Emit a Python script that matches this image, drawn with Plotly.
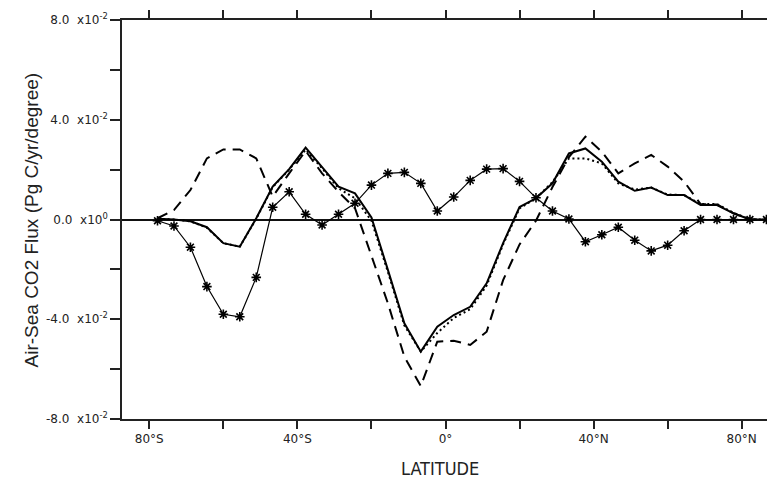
import numpy as np
import plotly.graph_objects as go

# Gaussian-grid latitudes (degrees)
lats = [-77.78, -73.33, -68.89, -64.44, -60.0, -55.56, -51.11, -46.67, -42.22, -37.78,
        -33.33, -28.89, -24.44, -20.0, -15.56, -11.11, -6.67, -2.22, 2.22, 6.67,
        11.11, 15.56, 20.0, 24.44, 28.89, 33.33, 37.78, 42.22, 46.67, 51.11,
        55.56, 60.0, 64.44, 68.89, 73.33, 77.78, 82.22, 86.67]

# flux values in units of 1e-2 Pg C/yr/degree
solid = [0.03, 0.0, -0.07, -0.31, -0.95, -1.09, 0.05, 1.32, 2.02, 2.88,
         2.10, 1.32, 1.05, 0.08, -2.02, -4.16, -5.30, -4.30, -3.83, -3.50,
         -2.56, -0.95, 0.50, 0.85, 1.45, 2.65, 2.85, 2.32, 1.52, 1.15,
         1.28, 0.98, 0.98, 0.58, 0.58, 0.25, 0.0, 0.0]
dotted = [0.03, 0.0, -0.07, -0.33, -0.95, -1.09, 0.03, 1.30, 2.00, 2.80,
          2.05, 1.25, 0.85, -0.05, -2.10, -4.25, -5.30, -4.55, -3.95, -3.60,
          -2.65, -1.00, 0.45, 0.85, 1.50, 2.45, 2.45, 2.25, 1.45, 1.20,
          1.28, 1.00, 0.98, 0.62, 0.62, 0.27, 0.0, 0.0]
dashed = [0.05, 0.38, 1.18, 2.45, 2.81, 2.81, 2.45, 0.92, 1.85, 2.75,
          1.85, 1.11, 0.45, -1.49, -3.36, -5.50, -6.68, -4.90, -4.86, -5.03,
          -4.50, -2.43, -1.00, -0.05, 1.30, 2.50, 3.32, 2.72, 1.85, 2.25,
          2.59, 2.12, 1.52, 0.62, 0.60, 0.25, 0.0, 0.0]
starred = [-0.05, -0.26, -1.11, -2.69, -3.80, -3.90, -2.32, 0.49, 1.11, 0.21,
           -0.22, 0.21, 0.65, 1.38, 1.85, 1.89, 1.45, 0.34, 0.90, 1.57,
           2.02, 2.04, 1.53, 0.87, 0.34, 0.02, -0.89, -0.61, -0.31, -0.83,
           -1.26, -1.03, -0.45, 0.0, 0.0, 0.0, 0.0, 0.0]
scale = 1e-2

x_tickvals = [-80, -40, 0, 40, 80]
x_ticktext = ["80°S", "40°S", "0°", "40°N", "80°N"]
y_tickvals = [0.08, 0.04, 0.0, -0.04, -0.08]
y_ticktext = ["8.0  x10<sup>-2</sup>", "4.0  x10<sup>-2</sup>",
              "0.0  x10<sup>0</sup>", "-4.0  x10<sup>-2</sup>",
              "-8.0  x10<sup>-2</sup>"]

fig = go.Figure()
fig.add_trace(go.Scatter(x=lats, y=np.array(dashed) * scale, mode="lines",
                         line=dict(color="black", width=2, dash="11px,7px"),
                         showlegend=False))
fig.add_trace(go.Scatter(x=lats, y=np.array(dotted) * scale, mode="lines",
                         line=dict(color="black", width=2, dash="2px,3px"),
                         showlegend=False))
fig.add_trace(go.Scatter(x=lats, y=np.array(solid) * scale, mode="lines",
                         line=dict(color="black", width=2),
                         showlegend=False))
fig.add_trace(go.Scatter(x=lats, y=np.array(starred) * scale, mode="lines+markers",
                         line=dict(color="black", width=1.2),
                         marker=dict(symbol="asterisk-open", size=8, color="black",
                                     line=dict(color="black", width=1.6)),
                         showlegend=False))

axis_font = dict(family="DejaVu Sans", size=12, color="#222")
fig.update_xaxes(range=[-87.37, 86.83], tickmode="array", tickvals=x_tickvals,
                 ticktext=x_ticktext, ticks="outside", ticklen=8, tickwidth=1.5,
                 tickcolor="#222", showline=True, linecolor="#222", linewidth=1.6,
                 minor=dict(tickmode="linear", tick0=0, dtick=20, ticks="outside",
                            ticklen=8, tickwidth=1.5, tickcolor="#222"),
                 mirror="ticks", showgrid=False, zeroline=False, tickfont=axis_font)
fig.update_yaxes(range=[-0.08, 0.08], tickmode="array", tickvals=y_tickvals,
                 ticktext=y_ticktext, ticks="outside", ticklen=10, tickwidth=1.5,
                 tickcolor="#222", showline=True, linecolor="#222", linewidth=1.6,
                 minor=dict(tickmode="linear", tick0=0, dtick=0.02, ticks="outside",
                            ticklen=10, tickwidth=1.5, tickcolor="#222"),
                 mirror=False, showgrid=False, zeroline=True, zerolinecolor="#111",
                 zerolinewidth=1.5, tickfont=axis_font)

fig.update_layout(
    width=767, height=480,
    margin=dict(l=122, r=0, t=20, b=61),
    plot_bgcolor="white", paper_bgcolor="white",
    annotations=[
        dict(text="Air-Sea CO2 Flux (Pg C/yr/degree)", x=(31 - 122) / 645, y=0.5,
             xref="paper", yref="paper", showarrow=False, textangle=-90,
             xanchor="center", yanchor="middle",
             font=dict(family="Liberation Sans", size=19, color="#222")),
        dict(text="LATITUDE", x=(440 - 122) / 645, y=(419 - 468) / 399,
             xref="paper", yref="paper", showarrow=False,
             xanchor="center", yanchor="middle",
             font=dict(family="DejaVu Sans Condensed, DejaVu Sans", size=18, color="#222")),
    ],
)
fig.write_html("out.html")
